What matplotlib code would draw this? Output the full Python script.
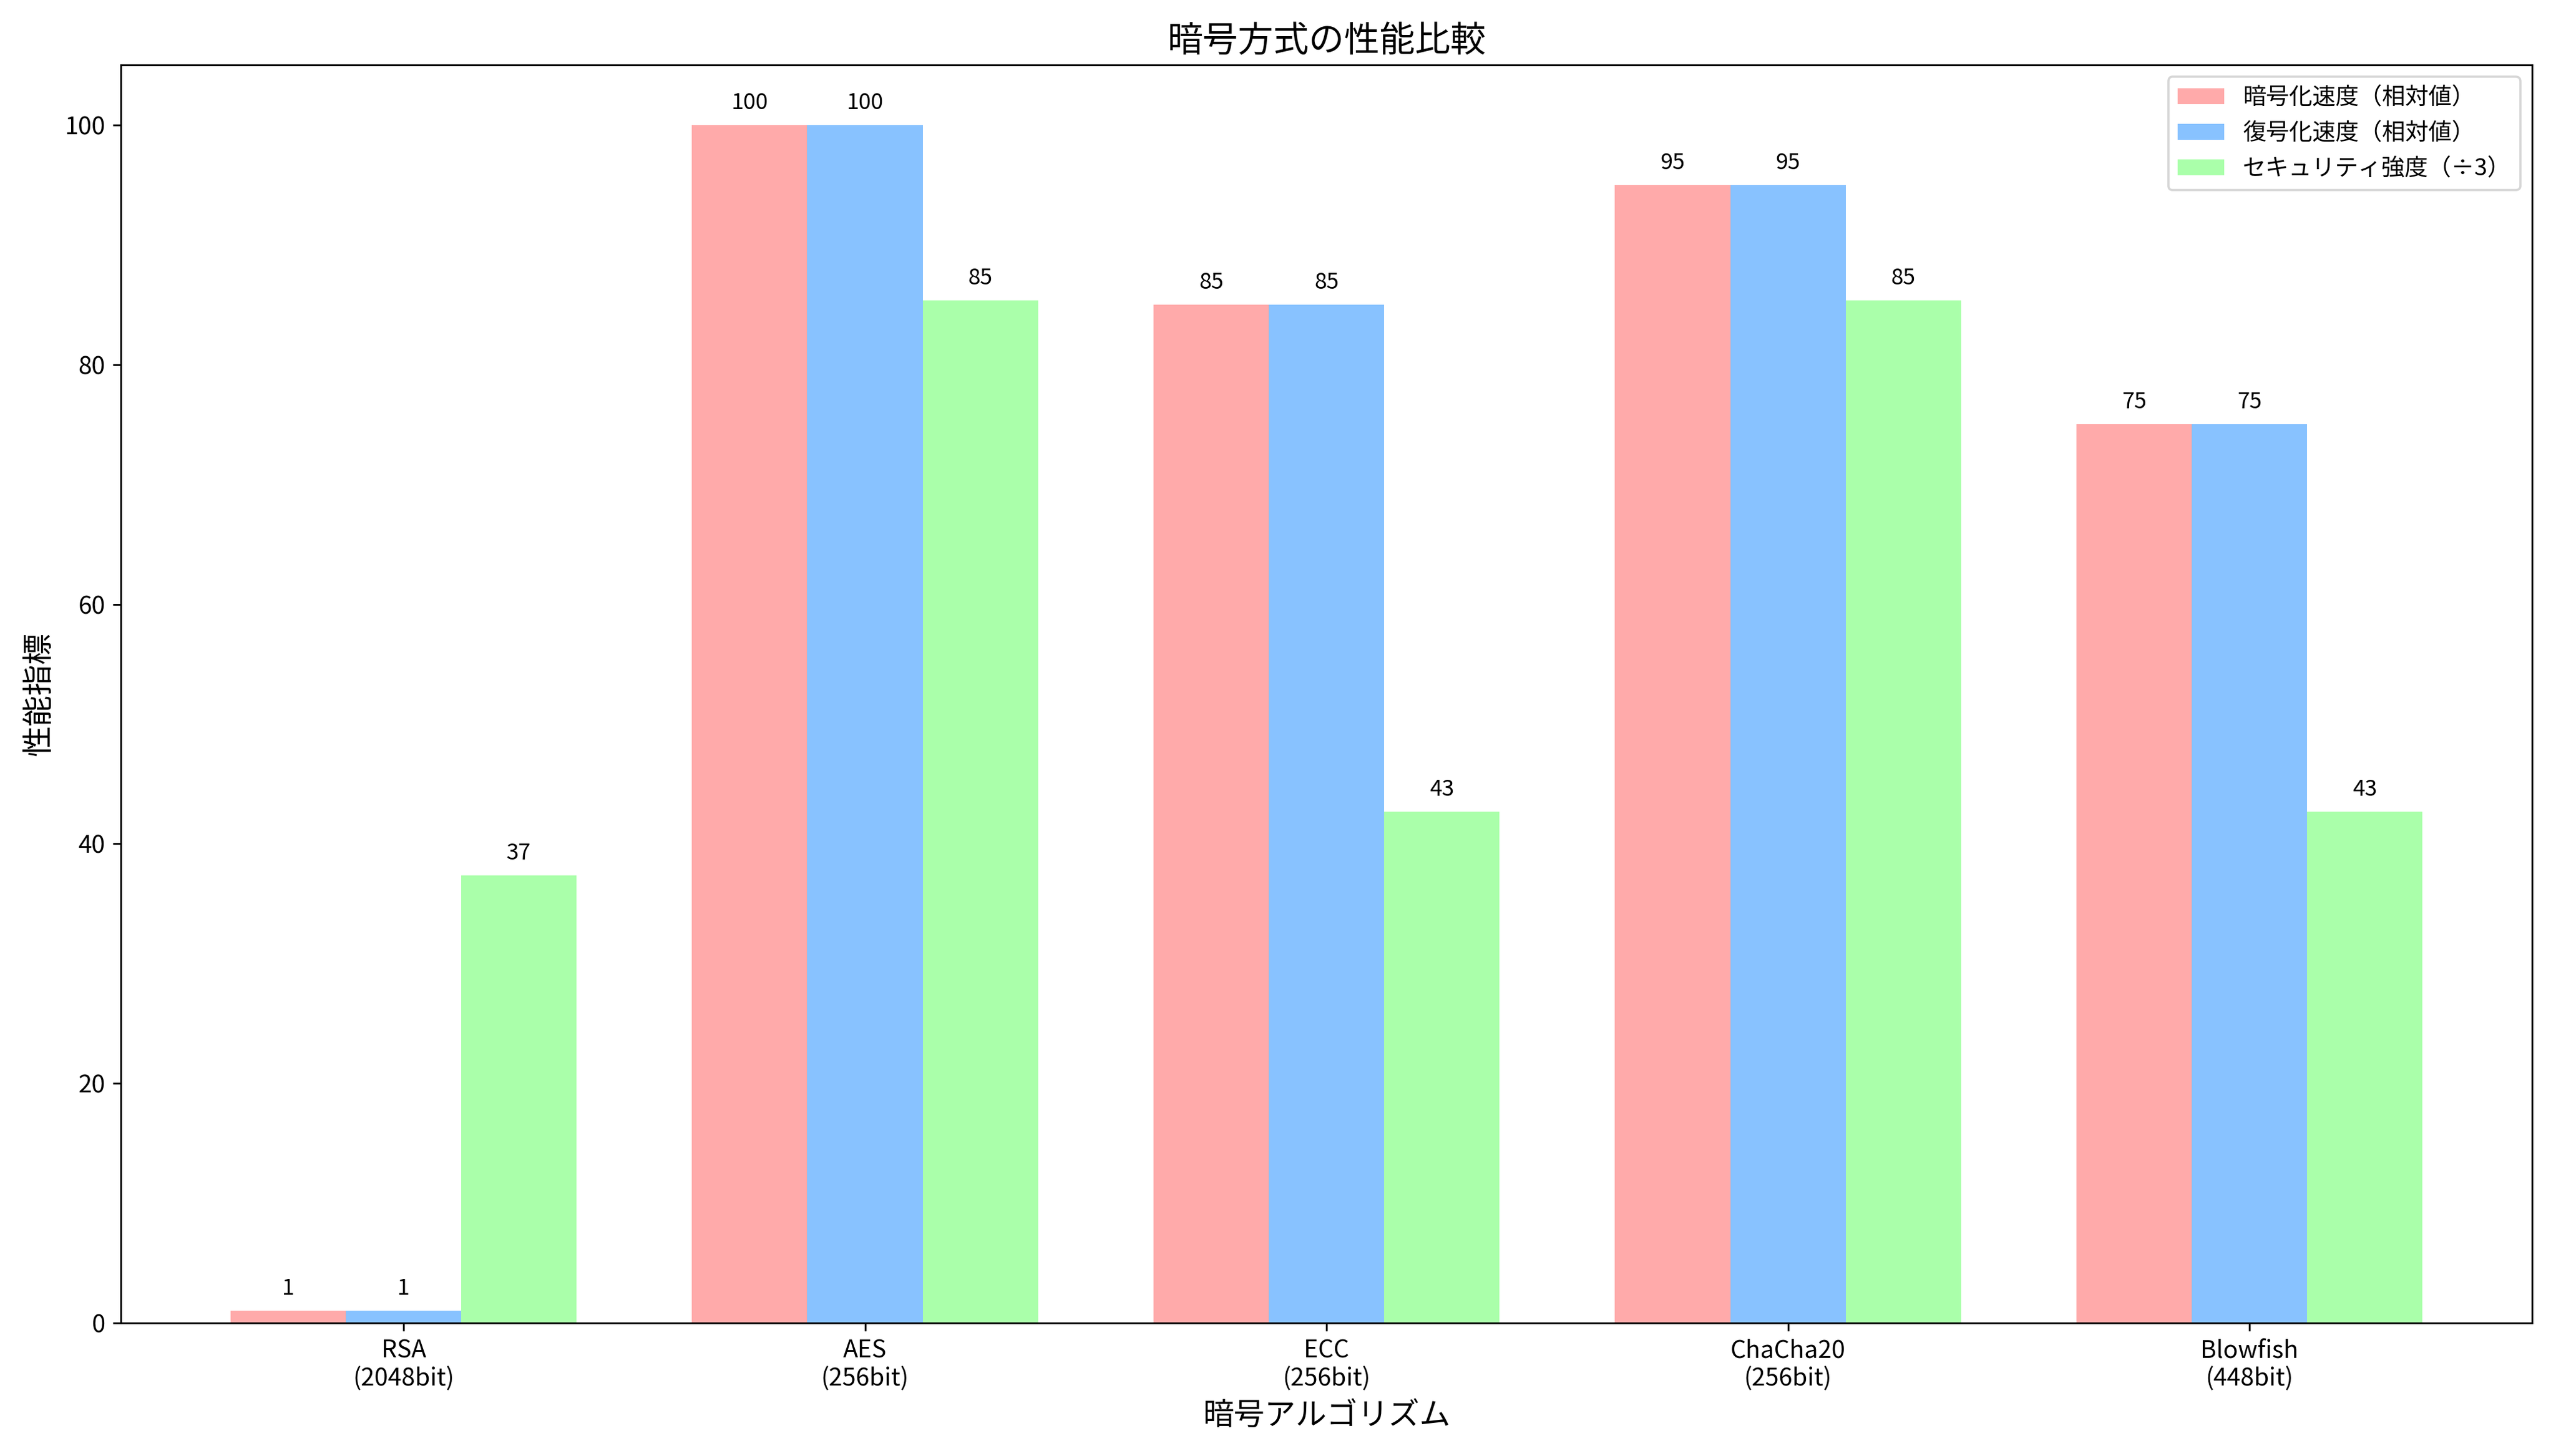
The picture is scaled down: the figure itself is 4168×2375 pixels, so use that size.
import numpy as np
import matplotlib
matplotlib.use("Agg")
import matplotlib.pyplot as plt

plt.rcParams["font.family"] = ["Noto Sans CJK JP", "DejaVu Sans"]

algorithms = ["RSA\n(2048bit)", "AES\n(256bit)", "ECC\n(256bit)", "ChaCha20\n(256bit)", "Blowfish\n(448bit)"]
enc_speed = [1, 100, 85, 95, 75]
dec_speed = [1, 100, 85, 95, 75]
security = [112 / 3, 256 / 3, 128 / 3, 256 / 3, 128 / 3]
series_labels = ["暗号化速度（相対値）", "復号化速度（相対値）", "セキュリティ強度（÷3）"]
colors = ["#ffaaaa", "#88c2ff", "#aaffaa"]

fig, ax = plt.subplots(figsize=(4168 / 260, 2375 / 260), dpi=260)
x = np.arange(len(algorithms))
w = 0.25
for i, (vals, lab, c) in enumerate(zip([enc_speed, dec_speed, security], series_labels, colors)):
    bars = ax.bar(x + (i - 1) * w, vals, w, label=lab, color=c)
    for b, v in zip(bars, vals):
        ax.annotate(f"{v:.0f}", (b.get_x() + b.get_width() / 2, v), xytext=(0, 5),
                    textcoords="offset points", ha="center", va="bottom", fontsize=10)

ax.set_xticks(x)
ax.set_xticklabels(algorithms, fontsize=11)
ax.tick_params(axis="y", labelsize=11)
ax.set_xlabel("暗号アルゴリズム", fontsize=14)
ax.set_ylabel("性能指標", fontsize=14)
ax.set_title("暗号方式の性能比較", fontsize=16)
ax.set_ylim(0, 105)
ax.legend(loc="upper right", fontsize=10.5)
plt.tight_layout()
plt.savefig("out.png")
